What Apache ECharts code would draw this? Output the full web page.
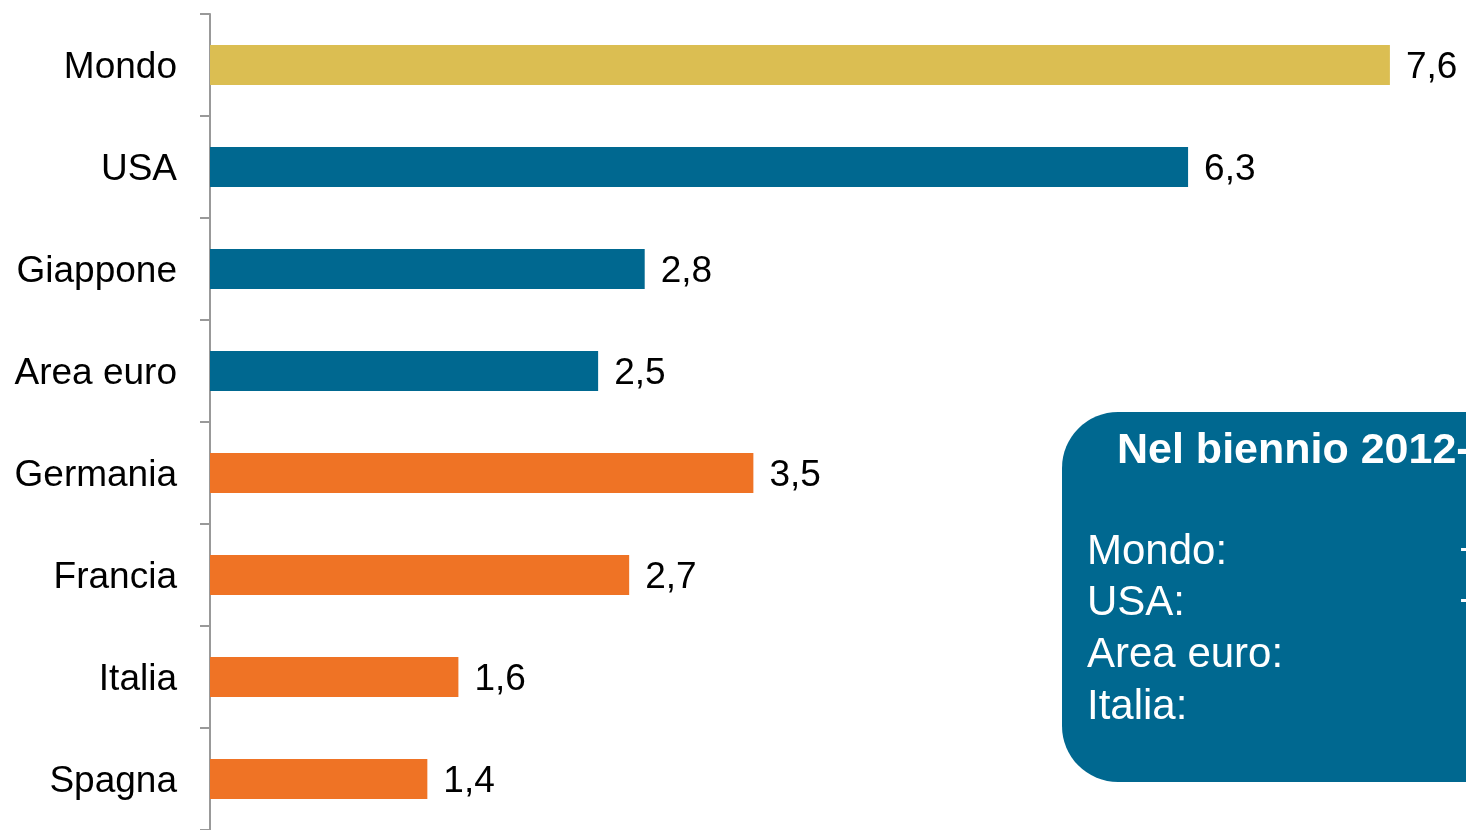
<!DOCTYPE html>
<html>
<head>
<meta charset="utf-8">
<script src="https://cdn.jsdelivr.net/npm/echarts@6/dist/echarts.min.js"></script>
<style>
  html, body { margin: 0; padding: 0; background: #ffffff; }
  #chart { width: 1466px; height: 830px; }
</style>
</head>
<body>
<div id="chart"></div>
<script>
// Categories (top to bottom) and their values
const categories = ['Mondo', 'USA', 'Giappone', 'Area euro', 'Germania', 'Francia', 'Italia', 'Spagna'];
const values = [7.6, 6.3, 2.8, 2.5, 3.5, 2.7, 1.6, 1.4];
// Group of each bar: world, major economies, euro-area countries
const groups = ['world', 'major', 'major', 'major', 'euro', 'euro', 'euro', 'euro'];
const groupColors = { world: '#DBBE52', major: '#006890', euro: '#EF7325' };

// Side note box
const noteTitle = 'Nel biennio 2012-2013';
const noteLines = ['Mondo:', 'USA:', 'Area euro:', 'Italia:'];
const noteSigns = ['+', '+', '', ''];

const font = '"Liberation Sans", Arial, sans-serif';

const chart = echarts.init(document.getElementById('chart'), null, { renderer: 'canvas' });

const noteElements = [
  {
    type: 'rect',
    shape: { x: 1062, y: 412, width: 520, height: 370, r: 56 },
    style: { fill: '#006890' },
    z: 10
  },
  {
    type: 'text',
    x: 1117, y: 451,
    style: {
      text: noteTitle, fill: '#ffffff', font: 'bold 43px ' + font,
      verticalAlign: 'middle'
    },
    z: 11
  }
];
noteLines.forEach((t, i) => {
  noteElements.push({
    type: 'text',
    x: 1087, y: 552 + i * 51.7,
    style: {
      text: t, fill: '#ffffff', font: '42px ' + font,
      verticalAlign: 'middle'
    },
    z: 11
  });
  if (noteSigns[i]) {
    noteElements.push({
      type: 'text',
      x: 1459, y: 552 + i * 51.7,
      style: {
        text: noteSigns[i], fill: '#ffffff', font: '42px ' + font,
        verticalAlign: 'middle'
      },
      z: 11
    });
  }
});

chart.setOption({
  animation: false,
  backgroundColor: '#ffffff',
  grid: { left: 210, right: 14, top: 14, height: 819, containLabel: false },
  xAxis: {
    type: 'value',
    min: 0,
    max: 8,
    show: false
  },
  yAxis: {
    type: 'category',
    data: categories,
    inverse: true,
    axisLine: { show: true, lineStyle: { color: '#999999', width: 2 } },
    axisTick: { show: true, length: 10, lineStyle: { color: '#999999', width: 2 } },
    axisLabel: {
      margin: 33,
      formatter: v => '{c|' + v + '}',
      rich: {
        c: {
          color: '#000000',
          fontSize: 37,
          fontFamily: font,
          padding: [6, 0, 0, 0]
        }
      }
    },
    splitLine: { show: false }
  },
  series: [{
    type: 'bar',
    barWidth: 40,
    data: values.map((v, i) => ({
      value: v,
      itemStyle: { color: groupColors[groups[i]] }
    })),
    label: {
      show: true,
      position: 'right',
      distance: 16,
      offset: [0, 3],
      color: '#000000',
      fontSize: 37,
      fontFamily: font,
      formatter: p => String(p.value).replace('.', ',')
    }
  }],
  graphic: { elements: noteElements }
});
</script>
</body>
</html>
